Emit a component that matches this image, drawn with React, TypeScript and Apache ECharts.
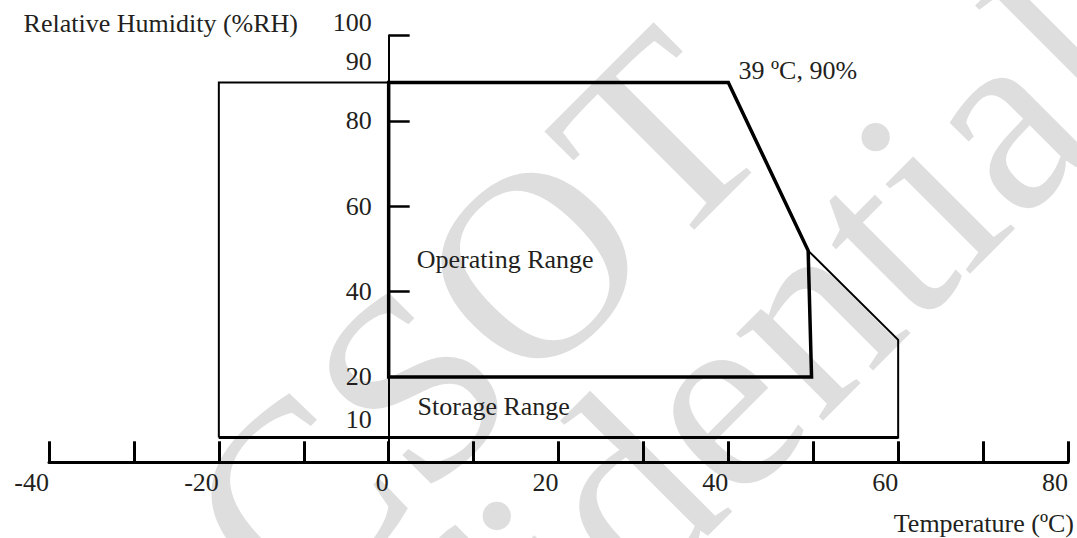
import React, { useEffect, useRef } from 'react';
import * as echarts from 'echarts';

const FONT = '"Liberation Serif", "Times New Roman", serif';
const INK = '#231f20';

// Axis ticks and labels
const xLabelValues = [-40, -20, 0, 20, 40, 60, 80];
const yLabelValues = [10, 20, 40, 60, 80, 90, 100];
const yTickValues = [40, 60, 80, 100];

// Storage range outline (temperature ºC, relative humidity %)
const storageTemp = [-20, -20, 40, 49.4, 60, 60, -20];
const storageRH = [5.8, 89, 89, 49.6, 28.7, 5.8, 5.8];

// Operating range outline
const operatingTemp = [0, 0, 40, 49.4, 49.8, 0];
const operatingRH = [20, 89, 89, 49.6, 20, 20];

// Annotations
const annotationText = ['39 ºC, 90%', 'Operating Range', 'Storage Range'];
const annotationTemp = [41.2, 3.3, 3.4];
const annotationRH = [91.7, 47.4, 13];

const watermarkLines = ['CSOT', 'Confidential'];

const pairs = (xs: number[], ys: number[]) => xs.map((x, i) => [x, ys[i]]);

export default function App() {
  const ref = useRef<HTMLDivElement>(null);

  useEffect(() => {
    document.body.style.margin = '0';
    if (!ref.current) return;
    const chart = echarts.init(ref.current, undefined, { renderer: 'svg' });

    const storage = pairs(storageTemp, storageRH);
    const operating = pairs(operatingTemp, operatingRH);

    const labelStyle = { fontFamily: FONT, fontSize: 26, color: INK };
    const gridLeft = 49;

    const option: any = {
      animation: false,
      backgroundColor: '#ffffff',
      grid: {
        left: gridLeft,
        right: 9,
        top: 35.5,
        bottom: 75.7,
        containLabel: false,
        outerBoundsMode: 'none',
      },
      xAxis: {
        type: 'value',
        min: -40,
        max: 80,
        interval: 10,
        name: 'Temperature (ºC)',
        nameLocation: 'end',
        nameGap: 6,
        nameMoveOverlap: false,
        nameTextStyle: {
          ...labelStyle,
          align: 'right',
          verticalAlign: 'top',
          padding: [48, 0, 0, 0],
        },
        axisLine: { show: true, onZero: true, lineStyle: { color: '#000', width: 3 } },
        axisTick: { show: true, inside: true, length: 21, lineStyle: { color: '#000', width: 3 } },
        axisLabel: {
          ...labelStyle,
          customValues: xLabelValues,
          align: 'right',
          margin: 7,
          showMinLabel: true,
          showMaxLabel: true,
        },
        splitLine: { show: false },
      },
      yAxis: {
        type: 'value',
        min: 0,
        max: 100,
        interval: 10,
        offset: 0,
        name: 'Relative Humidity (%RH)',
        nameLocation: 'end',
        nameGap: 12.5,
        nameMoveOverlap: false,
        nameTextStyle: {
          ...labelStyle,
          align: 'right',
          verticalAlign: 'middle',
          padding: [0, 90.7, 0, 0],
        },
        axisLine: { show: true, onZero: false, lineStyle: { color: '#000', width: 2 } },
        axisTick: {
          show: true,
          inside: true,
          length: 21,
          customValues: yTickValues,
          lineStyle: { color: '#000', width: 2.5 },
        },
        axisLabel: {
          ...labelStyle,
          customValues: yLabelValues,
          margin: 17,
          showMinLabel: true,
          showMaxLabel: true,
          formatter: (v: number) =>
            v === 100 ? '{top|100}' : v === 90 ? '{upper|90}' : '{n|' + v + '}',
          rich: {
            n: { ...labelStyle },
            top: { ...labelStyle, padding: [0, 0, 27, 0] },
            upper: { ...labelStyle, padding: [0, 0, 34, 0] },
          },
        },
        splitLine: { show: false },
      },
      graphic: {
        elements: [
          {
            type: 'group',
            x: 475,
            y: 297,
            rotation: Math.PI / 4,
            z: -100,
            silent: true,
            children: watermarkLines.map((t, i) => ({
              type: 'text',
              x: i === 0 ? -17.5 : -41,
              y: i === 0 ? 17 : 243,
              z: -100,
              silent: true,
              style: {
                text: t,
                font: `268px ${FONT}`,
                fill: '#dedede',
                align: 'center',
                verticalAlign: 'middle',
              },
            })),
          },
        ],
      },
      series: [
        {
          name: 'Storage Range',
          type: 'line',
          data: storage,
          symbol: 'none',
          lineStyle: { color: '#000', width: 2, join: 'miter' },
          z: 3,
        },
        {
          name: 'Storage Range bottom',
          type: 'line',
          data: storage.slice(5, 7),
          symbol: 'none',
          lineStyle: { color: '#000', width: 3, join: 'miter' },
          z: 3,
        },
        {
          name: 'Operating Range',
          type: 'line',
          data: operating,
          symbol: 'none',
          lineStyle: { color: '#000', width: 3.5, join: 'miter', cap: 'square' },
          z: 4,
        },
        {
          name: 'Annotations',
          type: 'scatter',
          symbolSize: 0,
          itemStyle: { opacity: 1 },
          data: annotationText.map((t, i) => ({
            name: t,
            value: [annotationTemp[i], annotationRH[i]],
          })),
          label: {
            show: true,
            position: 'right',
            distance: 0,
            formatter: (p: any) => p.name,
            align: 'left',
            verticalAlign: 'middle',
            opacity: 1,
            ...labelStyle,
          },
          emphasis: { disabled: true },
          z: 5,
        },
      ],
    };

    chart.setOption(option);
    // Move the humidity axis onto temperature 0 (read through the x scale).
    const zeroX = chart.convertToPixel({ xAxisIndex: 0 }, 0) as number;
    chart.setOption({ yAxis: { offset: gridLeft - zeroX } });
    return () => chart.dispose();
  }, []);

  return (
    <div
      ref={ref}
      style={{ position: 'fixed', left: 0, top: 0, width: 1077, height: 538, background: '#fff' }}
    />
  );
}
